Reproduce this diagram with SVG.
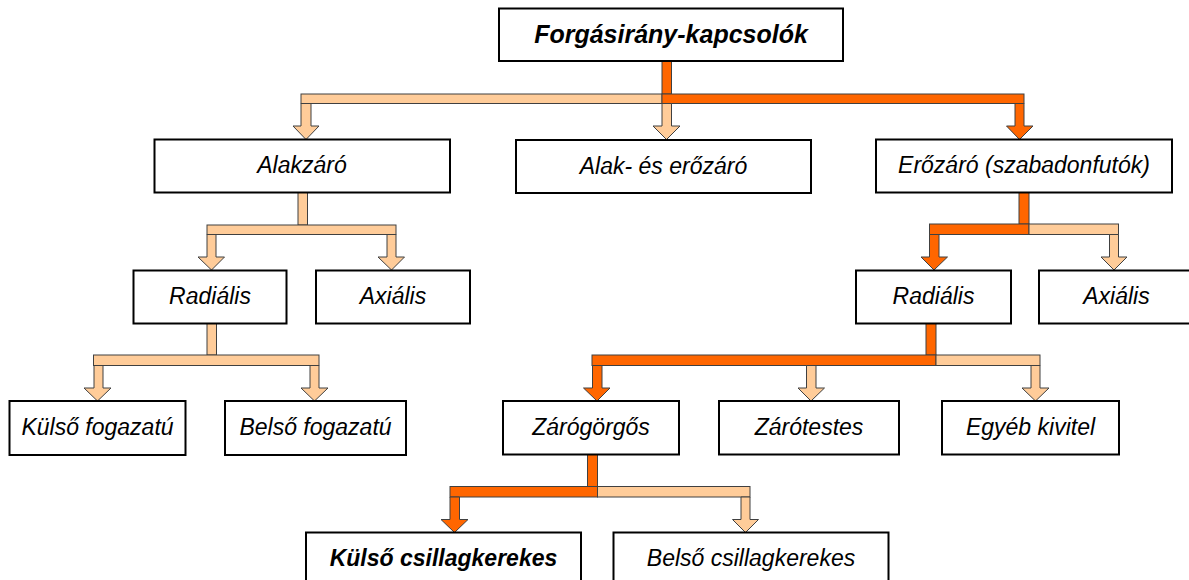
<svg xmlns="http://www.w3.org/2000/svg" width="1189" height="580" viewBox="0 0 1189 580">
<style>
.box{fill:#fff;stroke:#000;stroke-width:2}
.t{font-family:"Liberation Sans",Arial,sans-serif;font-style:italic;font-size:23px;fill:#000;text-anchor:middle}
.b{font-weight:bold}
.lt{fill:#FFCC99;stroke:#404040;stroke-width:1}
.or{fill:#FF6600;stroke:#404040;stroke-width:1}
</style>
<rect width="1189" height="580" fill="#fff"/>
<g id="connectors">
<!-- level 0 -->
<rect class="or" x="662" y="61" width="9.5" height="33"/>
<rect class="lt" x="301" y="94" width="361" height="9.5"/>
<rect class="or" x="662" y="94" width="362" height="9.5"/>
<polygon class="lt" points="301,103.5 311,103.5 311,126 319,126 306,139.5 293,126 301,126"/>
<polygon class="lt" points="662,103.5 671.5,103.5 671.5,126 680,126 666.5,139.5 653,126 662,126"/>
<polygon class="or" points="1015,103.5 1024,103.5 1024,126 1033,126 1019.5,139.5 1006.5,126 1015,126"/>
<!-- Alakzáró -->
<rect class="lt" x="298" y="192.5" width="9.5" height="32.5"/>
<rect class="lt" x="207" y="225" width="189" height="9.5"/>
<polygon class="lt" points="207,234.5 216,234.5 216,257 224.5,257 211.5,270 198,257 207,257"/>
<polygon class="lt" points="387,234.5 396,234.5 396,257 404.5,257 391.5,270 378,257 387,257"/>
<!-- Radiális left -->
<rect class="lt" x="207" y="323.5" width="9.5" height="31.5"/>
<rect class="lt" x="93.5" y="355" width="225.5" height="10.5"/>
<polygon class="lt" points="94,365.5 103,365.5 103,388 111,388 97.5,401 84,388 94,388"/>
<polygon class="lt" points="310,365.5 319,365.5 319,388 328,388 314.5,401 301,388 310,388"/>
<!-- Erőzáró -->
<rect class="or" x="1019" y="192.5" width="10" height="31.5"/>
<rect class="or" x="929.5" y="224" width="99.5" height="10.5"/>
<rect class="lt" x="1029" y="224" width="89.5" height="10.5"/>
<polygon class="or" points="929.5,234.5 939,234.5 939,257 947.5,257 934,270 921,257 929.5,257"/>
<polygon class="lt" points="1109.5,234.5 1118.5,234.5 1118.5,257 1127,257 1114,270 1101,257 1109.5,257"/>
<!-- Radiális right -->
<rect class="or" x="926" y="323.5" width="10" height="31.5"/>
<rect class="or" x="592" y="355" width="344" height="10.5"/>
<rect class="lt" x="936" y="355" width="104" height="10.5"/>
<polygon class="or" points="592.5,365.5 602,365.5 602,388 610,388 597,401 583.5,388 592.5,388"/>
<polygon class="lt" points="806.5,365.5 816,365.5 816,388 824.5,388 811,401 798,388 806.5,388"/>
<polygon class="lt" points="1031,365.5 1040,365.5 1040,388 1049,388 1035.5,401 1022,388 1031,388"/>
<!-- Zárógörgős -->
<rect class="or" x="587.5" y="454.5" width="10" height="32"/>
<rect class="or" x="450" y="486.5" width="147.5" height="10.5"/>
<rect class="lt" x="597.5" y="486.5" width="152.5" height="10.5"/>
<polygon class="or" points="450,497 459.5,497 459.5,519.5 468,519.5 454.5,532.5 441,519.5 450,519.5"/>
<polygon class="lt" points="741,497 750,497 750,519.5 758.5,519.5 745.5,532.5 732.5,519.5 741,519.5"/>
</g>
<g id="n-root"><rect class="box" x="499" y="8.5" width="344" height="52.5"/><text class="t b" x="671" y="43" font-size="25" style="font-size:25px">Forgásirány-kapcsolók</text></g>
<g id="n-alakzaro"><rect class="box" x="154.5" y="139.5" width="295.5" height="53"/><text class="t" x="302" y="173">Alakzáró</text></g>
<g id="n-alakerozaro"><rect class="box" x="516" y="140" width="295" height="53"/><text class="t" x="663.5" y="173.5">Alak- és erőzáró</text></g>
<g id="n-erozaro"><rect class="box" x="876" y="139.5" width="296" height="53"/><text class="t" x="1024" y="173">Erőzáró (szabadonfutók)</text></g>
<g id="n-radialis1"><rect class="box" x="133.5" y="270.5" width="153" height="53"/><text class="t" x="210" y="304">Radiális</text></g>
<g id="n-axialis1"><rect class="box" x="316" y="270.5" width="154" height="53"/><text class="t" x="393" y="304">Axiális</text></g>
<g id="n-radialis2"><rect class="box" x="856" y="270.5" width="155" height="53"/><text class="t" x="933.5" y="304">Radiális</text></g>
<g id="n-axialis2"><rect class="box" x="1039" y="270.5" width="155" height="53"/><text class="t" x="1116.5" y="304">Axiális</text></g>
<g id="n-kulsofog"><rect class="box" x="9.5" y="401" width="176" height="54"/><text class="t" x="97.5" y="435">Külső fogazatú</text></g>
<g id="n-belsofog"><rect class="box" x="225" y="401" width="181" height="54"/><text class="t" x="315.5" y="435">Belső fogazatú</text></g>
<g id="n-zarogorgos"><rect class="box" x="503" y="401" width="176" height="53.5"/><text class="t" x="591" y="435">Zárógörgős</text></g>
<g id="n-zarotestes"><rect class="box" x="719" y="401" width="180" height="53.5"/><text class="t" x="809" y="435">Zárótestes</text></g>
<g id="n-egyeb"><rect class="box" x="942" y="401" width="177" height="53.5"/><text class="t" x="1030.5" y="435">Egyéb kivitel</text></g>
<g id="n-kulsocs"><rect class="box" x="306" y="532.5" width="275" height="53"/><text class="t b" x="443.5" y="566">Külső csillagkerekes</text></g>
<g id="n-belsocs"><rect class="box" x="613.5" y="532.5" width="275" height="53"/><text class="t" x="751" y="566">Belső csillagkerekes</text></g>
</svg>
